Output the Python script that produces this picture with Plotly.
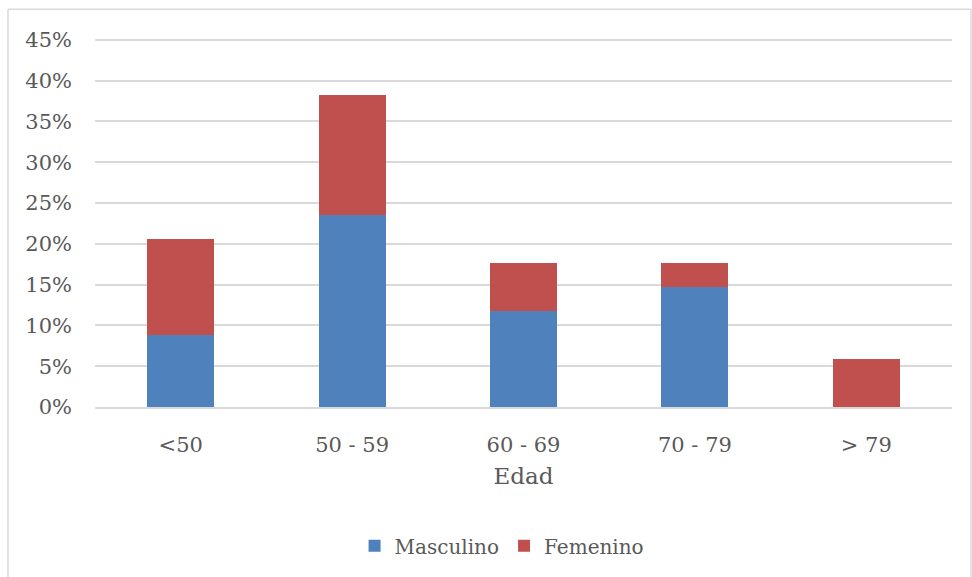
import plotly.graph_objects as go

# Age groups and share of patients (%) by sex
edad = ["<50", "50 - 59", "60 - 69", "70 - 79", "> 79"]
masculino = [8.82, 23.53, 11.76, 14.71, 0.0]
femenino = [11.76, 14.71, 5.88, 2.94, 5.88]

y_ticks = [0, 5, 10, 15, 20, 25, 30, 35, 40, 45]
y_tick_text = [f"{v}%" for v in y_ticks]

font_family = "DejaVu Serif"
text_color = "#595959"
grid_color = "#D9D9D9"

fig = go.Figure()
fig.add_trace(go.Bar(name="Masculino", x=edad, y=masculino,
                     marker=dict(color="#4F81BD", line=dict(width=0))))
fig.add_trace(go.Bar(name="Femenino", x=edad, y=femenino,
                     marker=dict(color="#C0504D", line=dict(width=0))))

fig.update_layout(
    barmode="stack",
    bargap=0.61,
    width=972, height=577,
    margin=dict(l=95, r=20, t=37, b=167),
    paper_bgcolor="white",
    plot_bgcolor="white",
    font=dict(family=font_family, size=21, color=text_color),
    showlegend=True,
    legend=dict(orientation="h", x=0.475, xanchor="center", y=-0.375, yanchor="middle",
                font=dict(size=20, color=text_color), itemwidth=30,
                traceorder="normal"),
    xaxis=dict(
        title=dict(text="Edad", font=dict(size=23, color=text_color), standoff=12),
        showgrid=False, showline=True, linecolor=grid_color, linewidth=1.5,
        ticks="", ticklabelstandoff=18, zeroline=False,
    ),
    yaxis=dict(
        range=[0, 45.35], tickvals=y_ticks, ticktext=y_tick_text,
        showgrid=True, gridcolor=grid_color, gridwidth=1.5,
        showline=False, zeroline=False, ticks="", ticklabelstandoff=22,
    ),
    bargroupgap=0,
)

# Outer frame of the chart area
frame = dict(type="line", xref="paper", yref="paper",
             line=dict(color=grid_color, width=1.5))
fig.add_shape(**frame, x0=-0.1015, x1=-0.1015, y0=-0.5, y1=1.075)
fig.add_shape(**frame, x0=-0.1015, x1=1.0222, y0=1.075, y1=1.075)
fig.add_shape(**frame, x0=1.0222, x1=1.0222, y0=-0.5, y1=1.075)

fig.write_html("out.html")
